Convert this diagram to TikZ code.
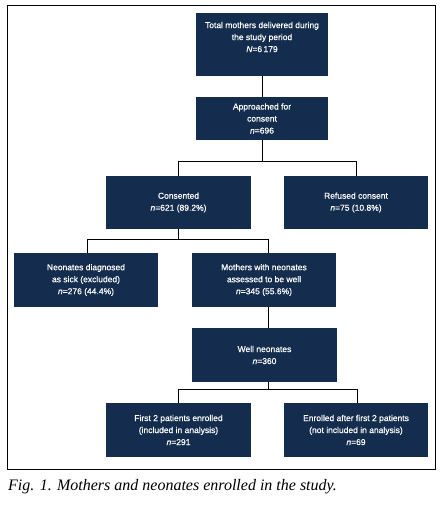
\documentclass[tikz,border=0pt]{standalone}
\usepackage{fontspec}
\setmainfont{Liberation Serif}
\newfontfamily\boxfont[FakeBold=0.6]{Liberation Sans}
\usetikzlibrary{calc}
\definecolor{navy}{RGB}{20,45,78}
\begin{document}
\begin{tikzpicture}[x=1pt,y=-1pt,
  fbox/.style={fill=navy, text=white, align=center, inner sep=0pt,
    font=\boxfont\fontsize{8.5}{12}\selectfont},
  conn/.style={draw=black, line width=0.9pt}]
\useasboundingbox (0,0) rectangle (440,506);
\draw[line width=1pt] (7,5) rectangle (435,469);
\node[fbox, minimum width=132pt, minimum height=63pt] (top) at (262,44.5) {Total mothers delivered during\\the study period\\\textit{N}=6\,179\\[3pt]};
\node[fbox, minimum width=132pt, minimum height=43pt] (app) at (262,118.5) {Approached for\\consent\\\textit{n}=696};
\node[fbox, minimum width=145pt, minimum height=53pt] (cons) at (178.5,202.5) {Consented\\\textit{n}=621 (89.2\%)};
\node[fbox, minimum width=144pt, minimum height=53pt] (ref) at (356,202.5) {Refused consent\\\textit{n}=75 (10.8\%)};
\node[fbox, minimum width=144pt, minimum height=54pt] (sick) at (86,280) {Neonates diagnosed\\as sick (excluded)\\\textit{n}=276 (44.4\%)};
\node[fbox, minimum width=144pt, minimum height=54pt] (well) at (264,280) {Mothers with neonates\\assessed to be well\\\textit{n}=345 (55.6\%)};
\node[fbox, minimum width=145pt, minimum height=54pt] (neo) at (264.5,355) {Well neonates\\\textit{n}=360};
\node[fbox, minimum width=145pt, minimum height=54pt] (f1) at (178.5,430) {First 2 patients enrolled\\(included in analysis)\\\textit{n}=291};
\node[fbox, minimum width=144pt, minimum height=54pt] (f2) at (356,430) {Enrolled after first 2 patients\\(not included in analysis)\\\textit{n}=69};
% connectors
\draw[conn] (top.south) -- (app.north);
\draw[conn] (app.south) -- ++(0,21) coordinate (s1);
\draw[conn] (cons.north) |- (s1) -| (ref.north);
\draw[conn] (cons.south) -- ++(0,10) coordinate (s2);
\draw[conn] ([xshift=1pt]sick.north) |- (s2) -| ([xshift=4pt]well.north);
\draw[conn] ([xshift=4.5pt]well.south) -- ([xshift=4pt]neo.north);
\draw[conn] ([xshift=3.5pt]neo.south) -- ++(0,7) coordinate (s3);
\draw[conn] (f1.north) |- (s3) -| ([xshift=1pt]f2.north);
\node[anchor=base west, inner sep=0pt, font=\itshape\fontsize{16}{18}\selectfont] (cap) at (8,490) {Fig. 1. Mothers and neonates enrolled in the study.};
\end{tikzpicture}
\end{document}
